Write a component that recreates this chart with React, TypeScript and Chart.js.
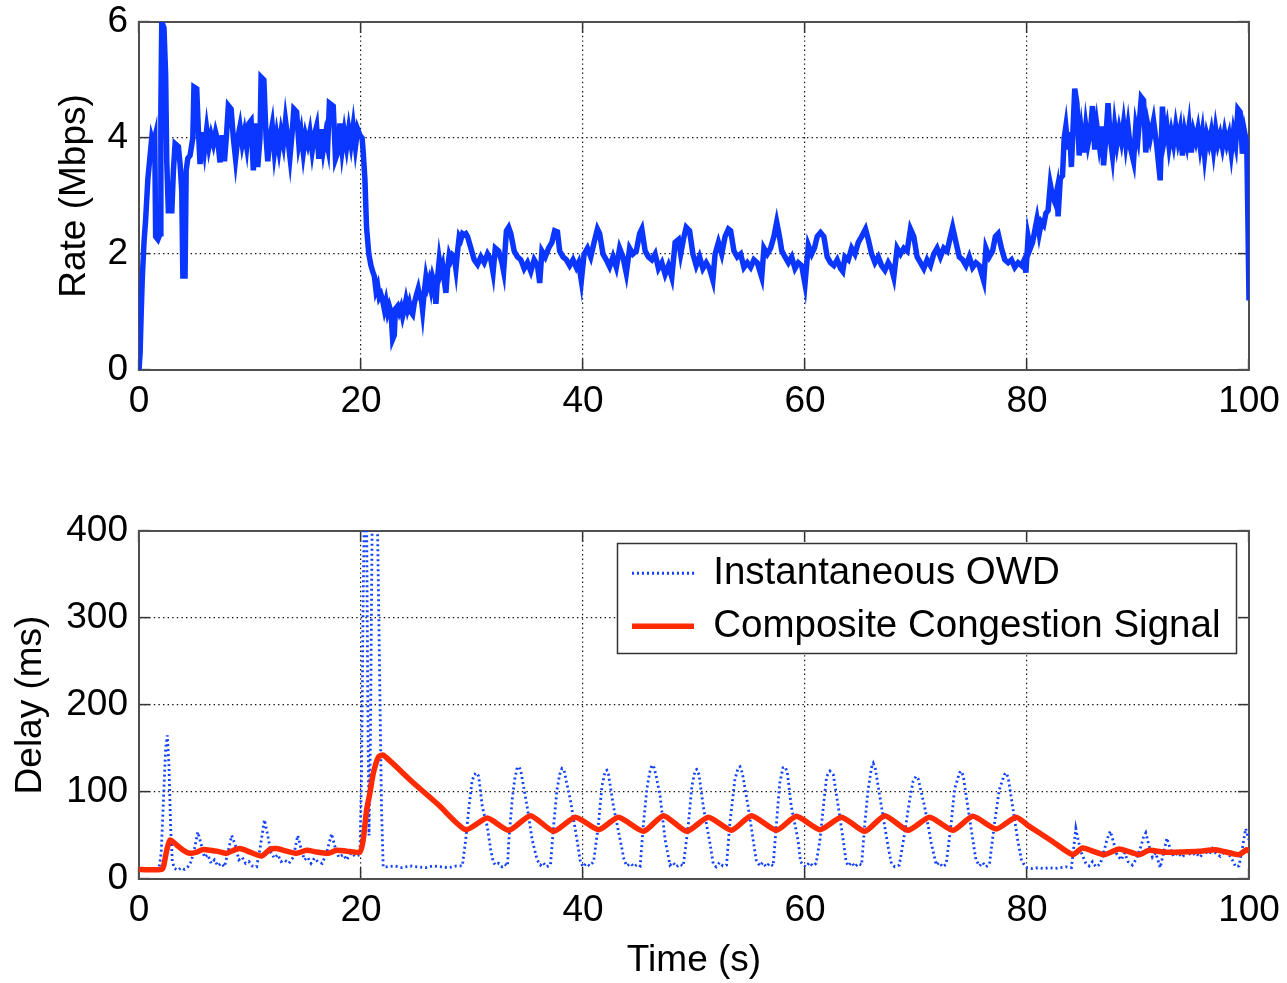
import React, { useEffect, useRef } from "react";
import { Chart, registerables } from "chart.js";

Chart.register(...registerables);

const FONT = "'Liberation Sans', Arial, Helvetica, sans-serif";
const BLUE = "#0a36ff";
const OWD_BLUE = "#1242ff";
const RED = "#ff2a00";

type Pt = [number, number];

// ---- tick values ----
const xTicks = [0, 20, 40, 60, 80, 100];
const rateTicks = [0, 2, 4, 6];
const delayTicks = [0, 100, 200, 300, 400];

// ---- Rate (Mbps) vs time (s) ----
const rateStartup: Pt[] = [
  [0, 0], [0.1, 0.3], [0.2, 1.0], [0.3, 1.6], [0.45, 2.2], [0.6, 2.6], [0.8, 3.3], [1.0, 3.7], [1.15, 4.0],
  [1.3, 3.9], [1.42, 4.0], [1.5, 2.3], [1.7, 2.25], [1.9, 2.35], [1.97, 4.5], [2.05, 6.0], [2.25, 5.9],
  [2.4, 5.1], [2.5, 3.6], [2.65, 2.7], [2.8, 3.1], [2.95, 2.7], [3.1, 3.44], [3.25, 3.9], [3.55, 3.85],
  [3.7, 3.55], [3.85, 3.1], [3.95, 1.62], [4.15, 1.62], [4.25, 3.44], [4.4, 3.65], [4.6, 3.7], [4.85, 4.0],
  [4.95, 4.88], [5.2, 4.85], [5.35, 4.13], [5.5, 3.55],
];
const rateHigh1: Pt[] = [
  [5.7, 4.1], [5.9, 3.8], [6.1, 4.15], [6.3, 3.85], [6.5, 4.05], [6.7, 3.9], [6.9, 4.1], [7.1, 3.95],
  [7.3, 3.58], [7.5, 4.05], [7.7, 3.6], [7.9, 4.1], [8.05, 4.56], [8.3, 4.5], [8.5, 4.0], [8.7, 3.64],
  [8.9, 4.0], [9.1, 4.2], [9.3, 3.9], [9.5, 4.1], [9.7, 3.85], [9.9, 4.25], [10.1, 4.3], [10.3, 3.44],
  [10.5, 4.25], [10.7, 3.5], [10.9, 4.0], [11.0, 5.05], [11.25, 5.0], [11.45, 4.0], [11.6, 3.6], [11.8, 4.0],
  [12.0, 4.22], [12.2, 3.76], [12.4, 4.05], [12.6, 3.8], [12.8, 4.1], [13.0, 3.9], [13.2, 4.3], [13.4, 4.0],
  [13.6, 3.67], [13.8, 4.1], [13.95, 4.5], [14.2, 4.45], [14.4, 3.9], [14.6, 4.1], [14.8, 3.75], [15.0, 4.05],
  [15.2, 3.9], [15.4, 4.1], [15.6, 3.78], [15.8, 4.05], [16.0, 4.2], [16.2, 3.64], [16.4, 4.15], [16.6, 3.8],
  [16.8, 4.05], [17.0, 3.85], [17.15, 4.6], [17.5, 4.55], [17.7, 3.64], [17.9, 3.75], [18.1, 4.25], [18.3, 3.8],
  [18.5, 4.1], [18.7, 3.85], [18.9, 4.15], [19.1, 3.9], [19.3, 4.2], [19.5, 3.85], [19.7, 4.15], [19.9, 4.05],
  [20.1, 4.0],
];
const rateDrop: Pt[] = [
  [20.2, 3.75], [20.35, 3.3], [20.5, 2.46], [20.7, 2.0], [20.9, 1.8], [21.05, 1.7], [21.2, 1.62], [21.35, 1.37],
  [21.5, 1.45], [21.65, 1.25], [21.8, 1.3], [21.95, 1.2], [22.1, 1.05], [22.25, 1.18], [22.4, 1.0], [22.55, 1.1],
  [22.7, 1.0], [22.85, 0.53], [23.0, 0.6], [23.1, 1.05], [23.3, 1.1], [23.45, 1.0], [23.6, 1.08], [23.75, 0.93],
  [23.9, 1.05], [24.05, 1.2], [24.2, 1.05], [24.35, 1.15], [24.5, 1.0], [24.65, 0.96], [24.8, 1.15], [25.0, 1.3],
  [25.15, 1.4], [25.3, 1.25], [25.45, 1.2], [25.55, 1.03], [25.7, 1.35], [25.85, 1.6], [26.0, 1.45], [26.15, 1.55],
  [26.3, 1.4], [26.45, 1.6], [26.6, 1.5], [26.75, 1.14], [26.9, 1.6], [27.05, 1.9], [27.2, 1.7], [27.35, 1.8],
  [27.5, 1.55], [27.65, 1.33], [27.8, 1.75], [27.95, 1.98], [28.1, 1.9], [28.25, 1.98], [28.4, 1.95],
  [28.55, 1.74], [28.7, 2.05], [28.85, 2.3], [29.0, 2.25], [29.15, 2.35], [29.3, 2.33], [29.45, 2.35],
];
const rateLow: Pt[] = [
  [29.6, 2.3], [29.9, 2.1], [30.2, 1.9], [30.5, 1.82], [30.8, 1.95], [31.1, 1.85], [31.4, 2.0], [31.7, 1.9],
  [31.9, 1.68], [32.1, 2.1], [32.4, 2.05], [32.7, 1.85], [32.85, 1.7], [33.1, 2.4], [33.3, 2.46], [33.5, 2.35],
  [33.8, 2.05], [34.1, 1.95], [34.4, 1.9], [34.7, 1.75], [35.0, 1.85], [35.3, 1.7], [35.6, 1.9], [35.9, 1.8],
  [36.1, 1.5], [36.3, 2.05], [36.6, 1.95], [36.9, 2.1], [37.2, 2.2], [37.45, 2.4], [37.7, 2.38], [37.9, 2.05],
  [38.2, 1.95], [38.5, 1.9], [38.8, 1.8], [39.1, 1.9], [39.4, 1.77], [39.6, 1.85], [39.85, 1.54], [40.1, 2.0],
  [40.4, 2.1], [40.7, 1.95], [41.0, 2.2], [41.3, 2.43], [41.5, 2.35], [41.8, 2.0], [42.1, 1.9], [42.4, 1.78],
  [42.7, 1.95], [43.0, 1.77], [43.3, 2.1], [43.6, 1.95], [43.9, 1.67], [44.2, 2.1], [44.5, 2.0], [44.8, 2.05],
  [45.1, 2.35], [45.3, 2.43], [45.6, 2.05], [45.9, 1.95], [46.2, 1.9], [46.5, 2.0], [46.8, 1.75], [47.1, 1.85],
  [47.4, 1.65], [47.7, 1.8], [48.0, 1.6], [48.3, 2.2], [48.6, 2.25], [48.8, 2.0], [49.1, 2.3], [49.3, 2.46],
  [49.6, 2.4], [49.9, 2.0], [50.2, 1.8], [50.5, 1.95], [50.8, 1.75], [51.1, 1.85], [51.4, 1.75], [51.7, 1.55],
  [51.9, 2.0], [52.2, 2.2], [52.5, 2.0], [52.8, 2.3], [53.1, 2.43], [53.3, 2.4], [53.6, 2.05], [53.9, 1.95],
  [54.2, 2.0], [54.5, 1.77], [54.8, 1.85], [55.1, 1.77], [55.4, 1.9], [55.7, 1.85], [56.1, 1.6], [56.3, 2.1],
  [56.6, 2.0], [56.9, 2.1], [57.2, 2.3], [57.45, 2.55], [57.7, 2.3], [57.9, 2.06], [58.2, 1.95], [58.5, 1.85],
  [58.8, 1.95], [59.1, 1.75], [59.4, 1.85], [59.7, 1.8], [60.0, 1.48], [60.3, 2.15], [60.6, 2.0], [60.85, 2.1],
  [61.1, 2.3], [61.4, 2.37], [61.7, 2.3], [62.0, 1.95], [62.3, 1.85], [62.6, 1.8], [62.9, 1.9], [63.2, 1.75],
  [63.4, 1.7], [63.6, 1.95], [63.9, 1.9], [64.2, 2.1], [64.5, 2.0], [64.8, 2.2], [65.1, 2.3], [65.45, 2.43],
  [65.7, 2.25], [66.0, 2.0], [66.3, 1.85], [66.6, 1.95], [66.9, 1.8], [67.2, 1.72], [67.5, 1.85], [67.8, 1.75],
  [68.0, 1.6], [68.3, 2.1], [68.6, 2.0], [68.9, 2.1], [69.2, 2.05], [69.5, 2.43], [69.8, 2.3], [70.1, 1.95],
  [70.4, 1.85], [70.7, 1.75], [71.0, 1.9], [71.3, 1.8], [71.6, 2.0], [71.9, 2.1], [72.2, 1.95], [72.5, 2.1],
  [72.8, 2.05], [73.1, 2.3], [73.3, 2.46], [73.6, 2.2], [73.9, 1.95], [74.2, 1.9], [74.5, 1.8], [74.8, 1.95],
  [75.1, 1.77], [75.4, 1.85], [75.7, 1.8], [76.1, 1.54], [76.3, 2.1], [76.6, 1.95], [76.9, 2.05], [77.15, 2.3],
  [77.4, 2.35], [77.7, 2.1], [78.0, 1.9], [78.3, 1.85], [78.6, 1.9], [78.9, 1.77], [79.2, 1.85], [79.5, 1.8],
  [79.75, 1.9], [79.9, 1.68],
];
const rateRise: Pt[] = [
  [80.1, 2.3], [80.3, 2.1], [80.5, 2.2], [80.7, 2.4], [80.9, 2.6], [81.1, 2.35], [81.3, 2.55], [81.5, 2.5],
  [81.7, 2.7], [81.9, 2.75], [82.1, 3.2], [82.3, 3.0], [82.5, 2.9], [82.7, 3.1], [82.8, 2.65], [83.0, 3.3],
  [83.2, 3.35], [83.35, 4.0], [83.5, 4.2], [83.7, 3.8], [83.85, 4.1], [84.0, 3.5],
];
const rateHigh2: Pt[] = [
  [84.3, 4.85], [84.5, 4.6], [84.7, 3.7], [84.9, 4.1], [85.1, 3.75], [85.3, 4.2], [85.5, 3.9], [85.7, 4.1],
  [85.9, 4.55], [86.1, 3.8], [86.3, 4.2], [86.5, 3.9], [86.7, 4.2], [86.9, 3.53], [87.1, 4.0], [87.3, 4.6],
  [87.5, 4.0], [87.7, 3.7], [87.9, 4.2], [88.1, 3.9], [88.3, 4.15], [88.5, 3.95], [88.7, 4.25], [88.9, 3.9],
  [89.1, 4.2], [89.3, 3.85], [89.6, 3.6], [89.8, 4.2], [90.0, 4.0], [90.3, 4.7], [90.5, 4.65], [90.7, 3.75],
  [90.9, 4.2], [91.1, 4.0], [91.4, 4.3], [91.7, 3.85], [92.0, 3.27], [92.2, 4.54], [92.4, 4.0], [92.6, 4.2],
  [92.8, 3.85], [93.0, 4.1], [93.2, 3.9], [93.4, 4.2], [93.6, 3.95], [93.8, 4.15], [94.0, 3.7], [94.2, 4.1],
  [94.4, 3.9], [94.6, 4.2], [94.8, 3.75], [95.0, 4.1], [95.2, 3.95], [95.4, 4.15], [95.6, 3.85], [95.8, 4.1],
  [96.0, 3.7], [96.2, 4.05], [96.4, 3.9], [96.6, 4.1], [96.8, 3.8], [97.0, 4.15], [97.2, 3.9], [97.4, 4.05],
  [97.6, 3.85], [97.8, 4.1], [98.0, 3.9], [98.2, 4.05], [98.4, 3.75], [98.6, 4.1], [98.8, 3.9], [99.0, 4.5],
  [99.2, 4.45], [99.4, 3.73], [99.6, 4.1], [99.8, 3.9], [99.9, 2.6], [100, 1.2],
];

// ---- Instantaneous OWD (ms) ----
const owdStartup: Pt[] = [
  [0, 10], [0.3, 12], [0.6, 9], [0.9, 12], [1.2, 10], [1.5, 11], [1.8, 12], [2.0, 30], [2.2, 90], [2.4, 150],
  [2.55, 165], [2.7, 130], [2.85, 60], [3.0, 20], [3.2, 12], [3.5, 10], [3.8, 13], [4.1, 11], [4.4, 14],
  [4.7, 20], [5.0, 35], [5.3, 54], [5.6, 40], [5.9, 25], [6.2, 28], [6.5, 18], [6.8, 22], [7.1, 15], [7.4, 18],
  [7.7, 14], [8.0, 30], [8.35, 50], [8.7, 38], [9.0, 22], [9.3, 25], [9.6, 18], [9.9, 20], [10.2, 15],
  [10.6, 14], [10.9, 35], [11.3, 68], [11.6, 50], [11.9, 30], [12.2, 24], [12.5, 28], [12.8, 20], [13.1, 22],
  [13.5, 18], [13.9, 25], [14.3, 50], [14.6, 35], [14.9, 22], [15.2, 25], [15.5, 18], [15.8, 24], [16.1, 20],
  [16.5, 18], [16.9, 30], [17.35, 52], [17.7, 35], [18.0, 25], [18.4, 28], [18.7, 22], [19.1, 30], [19.5, 26],
  [19.9, 28],
];
const owdBurst: Pt[] = [
  [20.05, 120], [20.2, 330], [20.35, 460], [20.5, 430], [20.6, 220], [20.72, 50], [20.85, 160], [21.0, 400],
  [21.2, 470], [21.45, 440], [21.65, 260], [21.85, 80], [22.0, 14],
];
const owdFlat: Pt[] = [
  [22.3, 14], [23, 15], [23.7, 13], [24.4, 15], [25.1, 14], [25.8, 13], [26.5, 15], [27.2, 14], [27.9, 13],
  [28.6, 15],
];
const owdOscillation: Pt[] = [
  [29.13, 15], [29.43, 45], [29.73, 83], [30.0, 112], [30.2, 120], [30.4, 122], [30.6, 118], [30.93, 83],
  [31.38, 60], [31.68, 34], [31.9, 20], [32.1, 16], [32.4, 18], [32.7, 14], [32.95, 17], [33.2, 15],
  [33.32, 45], [33.62, 91], [33.85, 115], [34.07, 128], [34.25, 129], [34.4, 124], [34.97, 83], [35.42, 45],
  [35.87, 22], [36.17, 16], [36.4, 19], [36.7, 14], [37.07, 16], [37.37, 64], [37.66, 103], [37.9, 120],
  [38.1, 127], [38.3, 125], [38.5, 112], [38.86, 91], [39.46, 45], [39.76, 20], [40.0, 14], [40.3, 18],
  [40.6, 15], [40.96, 20], [41.4, 64], [41.7, 106], [42.0, 124], [42.15, 125], [42.3, 120], [42.75, 83],
  [43.35, 45], [43.7, 22], [43.95, 15], [44.3, 18], [44.6, 14], [44.9, 17], [45.15, 15], [45.45, 64],
  [45.75, 103], [46.0, 122], [46.2, 131], [46.4, 128], [46.6, 118], [46.95, 95], [47.4, 45], [47.84, 16],
  [48.1, 19], [48.4, 14], [48.7, 17], [49.04, 15], [49.5, 64], [49.8, 106], [50.1, 125], [50.25, 126],
  [50.45, 120], [50.84, 83], [51.44, 41], [51.74, 17], [52.0, 14], [52.3, 19], [52.6, 15], [52.93, 16],
  [53.23, 64], [53.68, 114], [53.98, 128], [54.15, 129], [54.35, 122], [54.88, 83], [55.33, 45], [55.6, 22],
  [55.93, 15], [56.2, 19], [56.5, 14], [56.8, 18], [57.13, 15], [57.43, 64], [57.72, 110], [58.02, 128],
  [58.2, 129], [58.4, 123], [58.77, 83], [59.37, 45], [59.6, 20], [59.82, 16], [60.1, 14], [60.4, 19],
  [60.7, 15], [61.0, 18], [61.35, 45], [61.65, 83], [61.95, 118], [62.25, 124], [62.55, 120], [63.0, 83],
  [63.44, 45], [63.7, 20], [63.9, 15], [64.2, 19], [64.5, 14], [64.8, 18], [65.1, 16], [65.39, 64],
  [65.69, 103], [65.99, 128], [66.15, 133], [66.35, 126], [66.89, 83], [67.49, 37], [67.8, 17], [68.1, 14],
  [68.5, 16], [68.98, 53], [69.43, 91], [69.73, 112], [70.0, 118], [70.2, 115], [70.78, 83], [71.38, 41],
  [71.83, 16], [72.1, 19], [72.4, 14], [72.72, 17], [73.17, 64], [73.47, 103], [73.92, 122], [74.07, 124],
  [74.25, 119], [74.67, 83], [75.12, 45], [75.4, 22], [75.72, 15], [76.0, 19], [76.3, 14], [76.62, 17],
  [77.07, 64], [77.51, 103], [77.96, 120], [78.1, 122], [78.3, 117], [78.71, 83], [79.16, 45], [79.5, 22],
  [79.8, 15],
];
const owdTail: Pt[] = [
  [80.0, 13], [80.5, 12], [81, 13], [81.5, 12], [82, 13], [82.5, 12], [83, 13], [83.5, 14], [84.0, 13],
  [84.2, 35], [84.4, 58], [84.6, 45], [84.9, 30], [85.3, 18], [85.6, 15], [85.9, 20], [86.2, 14], [86.6, 17],
  [86.9, 30], [87.2, 45], [87.5, 55], [87.8, 42], [88.1, 28], [88.5, 22], [88.8, 30], [89.1, 20], [89.5, 16],
  [89.8, 22], [90.2, 35], [90.5, 48], [90.7, 53], [91.0, 38], [91.3, 25], [91.6, 30], [92.0, 13], [92.3, 30],
  [92.6, 47], [92.9, 35], [93.2, 26], [93.6, 30], [94.0, 25], [94.4, 32], [94.8, 27], [95.2, 30], [95.6, 25],
  [96.0, 33], [96.4, 28], [96.7, 35], [97.0, 30], [97.4, 26], [97.8, 32], [98.2, 28], [98.5, 22], [98.8, 14],
  [99.1, 15], [99.4, 35], [99.7, 58], [100, 45],
];

// ---- Composite Congestion Signal (ms) ----
const signalRise: Pt[] = [
  [0, 11], [1, 10.5], [2.04, 11], [2.2, 14], [2.5, 33], [2.8, 45], [3.4, 39], [4.0, 33], [4.6, 29.5],
  [5.2, 31], [5.8, 34], [6.4, 33], [7.0, 32], [7.9, 29.5], [8.5, 33], [9.1, 35], [10.0, 31], [11.05, 26.4],
  [11.8, 34], [12.4, 35], [13.3, 32], [14.2, 29.5], [15.1, 33], [16.0, 31], [17.06, 29.5], [17.8, 33],
  [18.7, 32], [19.9, 31], [20.2, 45], [20.5, 79], [20.8, 98.5], [21.1, 121], [21.56, 140], [22.0, 142.5],
];
const signalDecay: Pt[] = [
  [24.5, 113], [27.0, 85],
];
const signalOscillation: Pt[] = [
  [29.43, 56.7], [31.38, 70], [33.32, 56], [35.27, 72.8], [37.37, 54.8], [39.31, 71], [41.41, 56.7],
  [43.2, 71], [45.45, 54.8], [47.25, 72.8], [49.34, 54.8], [51.29, 71], [53.38, 56], [55.18, 72.8],
  [57.43, 56], [59.22, 72], [61.35, 56.7], [63.29, 71], [65.39, 54.8], [67.19, 72.8], [69.28, 56],
  [71.23, 71], [73.32, 56], [75.12, 72], [77.22, 57.5], [79.01, 71], [80.2, 60.5],
];
const signalTail: Pt[] = [
  [82.2, 44], [84.1, 28], [85.0, 35.6], [86.95, 28], [88.3, 34.5], [90.1, 28], [91.0, 33], [92.5, 30.7],
  [94, 31], [95.5, 31.8], [97.0, 33.7], [99.07, 28], [99.8, 33.7], [100, 32],
];

const ratePoints = [...rateStartup, ...rateHigh1, ...rateDrop, ...rateLow, ...rateRise, ...rateHigh2];
const owdPoints = [...owdStartup, ...owdBurst, ...owdFlat, ...owdOscillation, ...owdTail];
const signalPoints = [...signalRise, ...signalDecay, ...signalOscillation, ...signalTail];

const toXY = (pts: Pt[]) => pts.map(([x, y]) => ({ x, y }));

const TICK_FONT = { family: FONT, size: 37 };

function axis(
  position: "top" | "bottom" | "left" | "right",
  min: number,
  max: number,
  ticks: number[],
  size: number,
  showLabels: boolean,
  drawGrid: boolean,
  title?: any
): any {
  const horizontal = position === "top" || position === "bottom";
  return {
    type: "linear",
    axis: horizontal ? "x" : "y",
    position,
    min,
    max,
    afterBuildTicks: (s: any) => {
      s.ticks = ticks.map((v) => ({ value: v }));
    },
    afterFit: (s: any) => {
      if (horizontal) s.height = size;
      else s.width = size;
      s.paddingLeft = 0;
      s.paddingRight = 0;
      s.paddingTop = 0;
      s.paddingBottom = 0;
    },
    ticks: {
      display: showLabels,
      font: TICK_FONT,
      color: "#000",
      padding: horizontal ? 20.5 : 22,
      maxRotation: 0,
      autoSkip: false,
    },
    grid: {
      display: true,
      drawOnChartArea: drawGrid,
      drawTicks: true,
      tickLength: -11,
      color: "#111",
      lineWidth: 1.2,
      tickColor: "#333",
      tickWidth: 1.5,
      tickBorderDash: [],
    },
    border: { display: true, color: "#505050", width: 2, dash: [1.4, 3.2] },
    title: title || { display: false },
  };
}

const axisTitle = (text: string, padTop: number, padBottom: number) => ({
  display: true,
  text,
  color: "#000",
  font: { family: FONT, size: 37 },
  padding: { top: padTop, bottom: padBottom },
});

// Legend placement & frame (inside the lower plot, upper right)
const LEG_LEFT = 617.5;
const LEG_TOP = 79.5;
const FRAME = { x: 617, y: 83, w: 620, h: 111 };

const legendFramePlugin = {
  id: "legendFrame",
  afterLayout(chart: any) {
    const lg = chart.legend;
    if (!lg) return;
    lg.left = LEG_LEFT;
    lg.top = LEG_TOP;
    lg.right = FRAME.x + FRAME.w;
    lg.bottom = LEG_TOP + 220;
  },
  beforeDatasetsDraw(chart: any) {
    const ctx = chart.ctx;
    ctx.save();
    ctx.fillStyle = "#fff";
    ctx.fillRect(FRAME.x, FRAME.y, FRAME.w, FRAME.h);
    ctx.strokeStyle = "#333";
    ctx.lineWidth = 1.5;
    ctx.strokeRect(FRAME.x + 0.5, FRAME.y + 0.5, FRAME.w - 1, FRAME.h - 1);
    ctx.restore();
    if (chart.legend) chart.legend.draw();
  },
};

function RateChart() {
  const ref = useRef<HTMLCanvasElement>(null);
  useEffect(() => {
    const chart = new Chart(ref.current as HTMLCanvasElement, {
      type: "line",
      data: {
        datasets: [
          {
            label: "Rate",
            data: toXY(ratePoints),
            borderColor: BLUE,
            backgroundColor: BLUE,
            borderWidth: 5.5,
            pointRadius: 0,
            tension: 0,
            fill: false,
          },
        ],
      },
      options: {
        responsive: false,
        animation: false,
        devicePixelRatio: 1,
        layout: { padding: 0 },
        plugins: { legend: { display: false }, tooltip: { enabled: false } },
        scales: {
          x: axis("bottom", 0, 100, xTicks, 90, true, true),
          x2: axis("top", 0, 100, xTicks, 22, false, false),
          y: axis("left", 0, 6, rateTicks, 139, true, true, axisTitle("Rate (Mbps)", 53, 0)),
          y2: axis("right", 0, 6, rateTicks, 38, false, false),
        },
      } as any,
    });
    return () => chart.destroy();
  }, []);
  return (
    <canvas ref={ref} width={1287} height={460} style={{ position: "absolute", left: 0, top: 0 }} />
  );
}

function DelayChart() {
  const ref = useRef<HTMLCanvasElement>(null);
  useEffect(() => {
    const chart = new Chart(ref.current as HTMLCanvasElement, {
      type: "line",
      data: {
        datasets: [
          {
            label: "Instantaneous OWD",
            data: toXY(owdPoints),
            borderColor: OWD_BLUE,
            backgroundColor: OWD_BLUE,
            borderWidth: 2.8,
            borderDash: [2, 3],
            pointRadius: 0,
            tension: 0,
            fill: false,
            order: 1,
          },
          {
            label: "Composite Congestion Signal",
            data: toXY(signalPoints),
            borderColor: RED,
            backgroundColor: RED,
            borderWidth: 5.5,
            pointRadius: 0,
            tension: 0.2,
            fill: false,
            order: 0,
          },
        ],
      },
      options: {
        responsive: false,
        animation: false,
        devicePixelRatio: 1,
        layout: { padding: 0 },
        plugins: {
          tooltip: { enabled: false },
          legend: {
            display: true,
            position: "chartArea",
            align: "start",
            labels: {
              font: { family: FONT, size: 38.5 },
              color: "#000",
              usePointStyle: true,
              pointStyle: "line",
              pointStyleWidth: 62,
              boxWidth: 62,
              padding: 14.5,
              textAlign: "left",
              generateLabels: (chart: any) =>
                chart.data.datasets.map((ds: any, i: number) => ({
                  text: ds.label,
                  fillStyle: ds.borderColor,
                  strokeStyle: ds.borderColor,
                  fontColor: "#000",
                  lineWidth: ds.borderWidth,
                  lineDash: ds.borderDash || [],
                  lineCap: "butt",
                  pointStyle: "line",
                  hidden: false,
                  datasetIndex: i,
                })),
            },
          },
        },
        scales: {
          x: axis("bottom", 0, 100, xTicks, 104, true, true, axisTitle("Time (s)", 0, 0)),
          x2: axis("top", 0, 100, xTicks, 71, false, false),
          y: axis("left", 0, 400, delayTicks, 139, true, true, axisTitle("Delay (ms)", 9, 0)),
          y2: axis("right", 0, 400, delayTicks, 38, false, false),
        },
      } as any,
      plugins: [legendFramePlugin],
    });
    return () => chart.destroy();
  }, []);
  return (
    <canvas ref={ref} width={1287} height={523} style={{ position: "absolute", left: 0, top: 460 }} />
  );
}

export default function App() {
  return (
    <div
      style={{
        position: "absolute",
        left: 0,
        top: 0,
        width: 1287,
        height: 983,
        background: "#fff",
        overflow: "hidden",
      }}
    >
      <RateChart />
      <DelayChart />
    </div>
  );
}
